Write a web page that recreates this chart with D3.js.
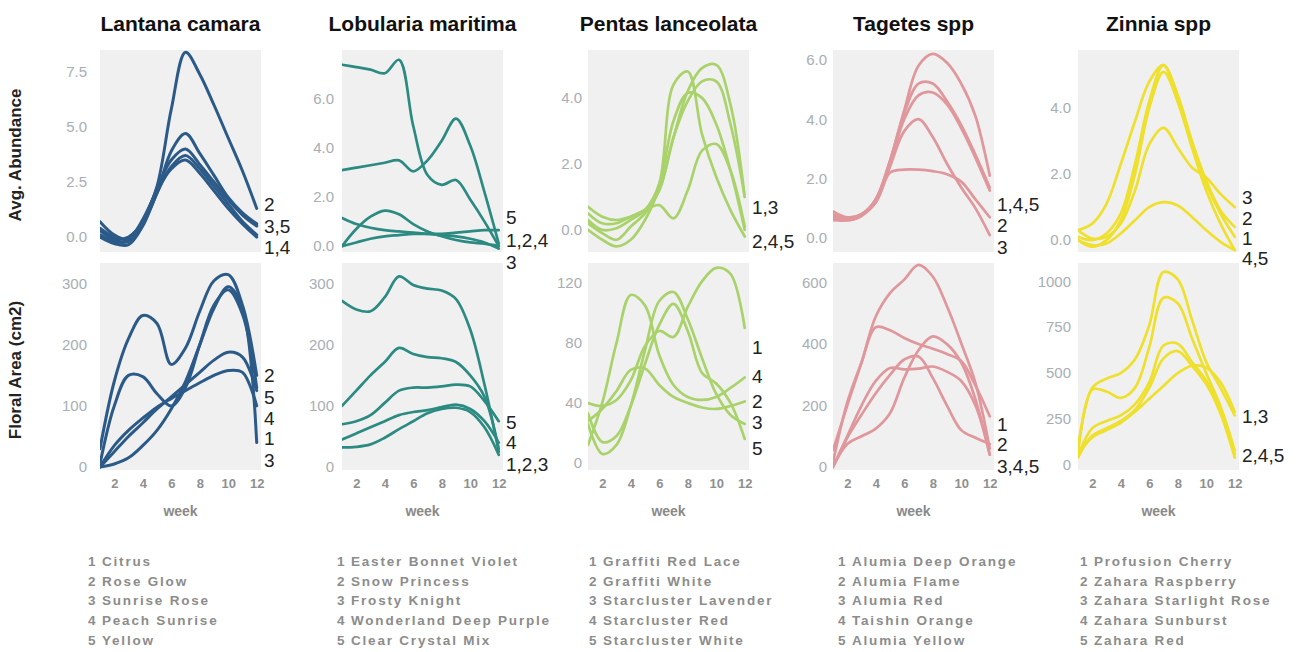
<!DOCTYPE html>
<html><head><meta charset="utf-8">
<script src="https://cdn.jsdelivr.net/npm/d3@7"></script>
<style>
body{margin:0;background:#fff;}
svg{display:block;font-family:"Liberation Sans",Arial,Helvetica,sans-serif;}
</style>
</head><body>
<svg id="chart" width="1298" height="652"></svg>
<script>
// ---------------- DATA ----------------
const speciesNames = ["Lantana camara","Lobularia maritima","Pentas lanceolata","Tagetes spp","Zinnia spp"];
const speciesColors = ["#2c5a88","#2b8a81","#a9d26b","#e0979c","#eee02c"];
const weeks = [1,2,3,4,5,6,7,8,9,10,11,12];
const weekTicks = [2,4,6,8,10,12];

const lantanaVarieties = ["Citrus","Rose Glow","Sunrise Rose","Peach Sunrise","Yellow"];
const lobulariaVarieties = ["Easter Bonnet Violet","Snow Princess","Frosty Knight","Wonderland Deep Purple","Clear Crystal Mix"];
const pentasVarieties = ["Graffiti Red Lace","Graffiti White","Starcluster Lavender","Starcluster Red","Starcluster White"];
const tagetesVarieties = ["Alumia Deep Orange","Alumia Flame","Alumia Red","Taishin Orange","Alumia Yellow"];
const zinniaVarieties = ["Profusion Cherry","Zahara Raspberry","Zahara Starlight Rose","Zahara Sunburst","Zahara Red"];

// Avg. abundance, series 1..5, weeks 1..12
const lantanaAbundance = [
  [0.0,-0.3,-0.35,0.5,2.0,3.2,3.7,3.1,2.3,1.5,0.7,0.1],
  [0.3,-0.1,0.0,0.7,2.3,5.8,8.4,7.4,6.0,4.5,3.0,1.3],
  [0.1,-0.2,-0.2,0.6,2.0,3.9,4.7,3.8,2.8,1.8,1.1,0.6],
  [0.7,0.1,-0.1,0.8,2.1,3.1,3.5,2.9,2.1,1.3,0.6,0.0],
  [0.4,0.0,-0.1,0.7,2.2,3.5,4.0,3.3,2.5,1.7,1.0,0.5]];
const lobulariaAbundance = [
  [7.4,7.3,7.2,7.05,7.6,4.9,2.9,2.5,2.7,1.9,1.0,0.0],
  [3.1,3.2,3.3,3.4,3.5,3.05,3.5,4.3,5.2,4.1,2.2,0.1],
  [1.15,0.9,0.75,0.65,0.6,0.55,0.5,0.45,0.4,0.3,0.15,-0.1],
  [0.0,0.7,1.2,1.45,1.3,0.9,0.6,0.4,0.25,0.15,0.1,0.0],
  [0.0,0.15,0.3,0.4,0.45,0.5,0.5,0.5,0.55,0.6,0.65,0.65]];
const pentasAbundance = [
  [0.2,-0.1,-0.3,0.1,0.5,1.2,2.8,4.2,4.9,5.0,3.8,1.0],
  [0.3,0.0,0.05,0.3,0.6,1.4,4.4,4.8,2.9,1.6,0.6,-0.2],
  [0.5,0.2,0.2,0.4,0.6,1.2,2.8,3.9,4.5,4.5,3.2,1.0],
  [0.0,-0.3,-0.5,-0.3,0.3,1.3,3.3,4.15,4.0,3.2,1.8,0.0],
  [0.7,0.4,0.3,0.4,0.6,0.75,0.35,1.2,2.4,2.6,1.8,0.1]];
const tagetesAbundance = [
  [0.8,0.65,0.8,1.3,2.6,4.3,5.8,6.2,5.9,5.2,4.1,2.1],
  [0.75,0.6,0.75,1.2,2.2,2.3,2.3,2.25,2.15,1.9,1.3,0.7],
  [0.6,0.6,0.8,1.2,2.4,3.6,4.0,3.4,2.5,1.7,1.0,0.1],
  [0.7,0.6,0.75,1.3,2.6,4.2,5.2,5.2,4.6,3.8,2.8,1.7],
  [0.9,0.7,0.8,1.3,2.5,4.0,4.8,4.9,4.5,3.7,2.7,1.6]];
const zinniaAbundance = [
  [0.3,0.5,1.1,2.3,3.6,4.8,5.3,4.2,2.9,1.7,0.8,0.1],
  [0.1,0.0,0.2,0.8,2.3,4.2,5.3,4.4,3.0,1.8,0.9,0.4],
  [0.3,0.05,0.1,0.5,1.5,2.9,3.4,2.8,2.2,1.9,1.4,1.0],
  [0.0,-0.15,-0.1,0.2,0.6,1.0,1.15,1.05,0.7,0.3,-0.05,-0.3],
  [0.0,-0.2,0.0,0.6,2.0,4.0,5.1,4.2,2.8,1.5,0.5,-0.3]];

// Floral area (cm2)
const lantanaArea = [
  [0,35,60,80,98,112,125,138,150,158,155,100],
  [30,140,210,248,235,168,195,255,305,315,265,150],
  [0,5,15,35,60,95,140,200,260,295,260,40],
  [0,25,50,72,95,115,135,155,175,188,180,125],
  [5,100,150,148,120,100,130,200,265,290,250,130]];
const lobulariaArea = [
  [272,258,255,278,312,298,292,289,275,225,135,25],
  [100,125,150,172,195,185,180,178,172,150,115,30],
  [32,33,37,48,62,75,88,95,97,90,65,20],
  [45,55,65,75,85,90,93,98,102,95,75,40],
  [70,75,85,105,125,130,130,132,135,132,108,75]];
const pentasArea = [
  [40,38,42,55,78,88,84,104,121,130,126,90],
  [28,36,48,62,63,52,44,40,37,36,38,41],
  [26,6,12,38,75,108,114,96,70,46,32,26],
  [12,40,80,112,105,72,52,44,42,44,50,57],
  [33,14,18,38,66,92,106,88,60,53,40,16]];
const tagetesArea = [
  [15,210,340,455,445,420,400,385,368,345,265,165],
  [0,95,170,240,300,350,360,290,200,120,95,75],
  [55,200,340,490,566,610,658,620,523,403,273,60],
  [0,75,100,125,175,290,380,425,400,340,220,40],
  [0,100,200,280,322,318,320,327,310,280,200,40]];
const zinniaArea = [
  [90,420,470,500,575,760,1050,1010,790,560,420,270],
  [60,410,400,365,420,640,910,880,690,500,320,80],
  [60,150,190,230,290,360,430,500,540,530,450,290],
  [50,200,240,270,330,450,650,660,560,460,300,60],
  [40,160,200,240,300,420,580,620,540,440,280,40]];

const abundanceTicks = [[0,2.5,5,7.5],[0,2,4,6],[0,2,4],[0,2,4,6],[0,2,4]];
const areaTicks = [[0,100,200,300],[0,100,200,300],[0,40,80,120],[0,200,400,600],[0,250,500,750,1000]];
const abundanceDomains = [[-0.68,8.5],[-0.24,8.0],[-0.67,5.45],[-0.47,6.33],[-0.36,5.76]];
const areaDomains = [[-4.9,334],[-4.9,334],[-4.7,133.3],[-9.8,664],[-27,1099]];

// end labels: [text, value position]
const abundanceEndLabels = [
  [["2",1.5],["3,5",0.5],["1,4",-0.45]],
  [["5",1.18],["1,2,4",0.24],["3",-0.65]],
  [["1,3",0.7],["2,4,5",-0.33]],
  [["1,4,5",1.15],["2",0.45],["3",-0.3]],
  [["3",1.3],["2",0.68],["1",0.06],["4,5",-0.55]]];
const areaEndLabels = [
  [["2",151],["5",115],["4",80],["1",48],["3",11]],
  [["5",74],["4",41],["1,2,3",5]],
  [["1",77],["4",58],["2",41],["3",27],["5",10]],
  [["1",140],["2",75],["3,4,5",3]],
  [["1,3",264],["2,4,5",55]]];

// ---------------- LAYOUT ----------------
const abundanceData = [lantanaAbundance,lobulariaAbundance,pentasAbundance,tagetesAbundance,zinniaAbundance];
const areaData = [lantanaArea,lobulariaArea,pentasArea,tagetesArea,zinniaArea];
const varietyLists = [lantanaVarieties,lobulariaVarieties,pentasVarieties,tagetesVarieties,zinniaVarieties];

const panelLeft = [100,342,588,833,1078];
const panelWidth = 161;
const topPanel = [50,252];
const botPanel = [263,470];
const yTickGap = [13,8,6,6,7];
const legendX = [88,337,589,838,1080];
const legendY0 = 561, legendStep = 19.8;

const svg = d3.select("#chart");
const defs = svg.append("defs");

function drawPanel(c, row, data, domain, ticks, labels){
  const [y0,y1] = row===0 ? topPanel : botPanel;
  const x = d3.scaleLinear().domain([1,12.3]).range([panelLeft[c], panelLeft[c]+panelWidth]);
  const y = d3.scaleLinear().domain(domain).range([y1,y0]);
  const g = svg.append("g");
  g.append("rect").attr("x",panelLeft[c]).attr("y",y0).attr("width",panelWidth).attr("height",y1-y0)
    .attr("fill","#f0f0f0");
  const id = "clip"+c+"_"+row;
  defs.append("clipPath").attr("id",id).append("rect")
    .attr("x",panelLeft[c]).attr("y",y0-2).attr("width",panelWidth).attr("height",y1-y0+4);
  const ya = g.append("g").attr("transform",`translate(${panelLeft[c]-yTickGap[c]},0)`)
    .call(d3.axisLeft(y).tickValues(ticks).tickSize(0).tickPadding(0)
      .tickFormat(row===0 ? d3.format(".1f") : d3.format("d")));
  ya.select(".domain").remove();
  ya.selectAll("text").attr("fill","#a7aeb4").attr("font-size",15).attr("font-family","Liberation Sans, Arial, sans-serif");
  const line = d3.line().x((d,i)=>x(weeks[i])).y(d=>y(d)).curve(d3.curveCatmullRom.alpha(0.5));
  const lg = g.append("g").attr("clip-path",`url(#${id})`);
  data.forEach(s=>{
    lg.append("path").attr("d",line(s)).attr("fill","none")
      .attr("stroke",speciesColors[c]).attr("stroke-width", c===0?3:2.7)
      .attr("stroke-linejoin","round").attr("stroke-linecap","round");
  });
  labels.forEach(([t,v])=>{
    g.append("text").attr("x",panelLeft[c]+panelWidth+3).attr("y",y(v)).attr("dy","0.36em")
      .attr("font-size",19).attr("fill","#222").text(t);
  });
  if(row===1){
    const xa = g.append("g").attr("transform",`translate(0,${y1+9})`)
      .call(d3.axisBottom(x).tickValues(weekTicks).tickSize(0).tickPadding(0));
    xa.select(".domain").remove();
    xa.selectAll("text").attr("fill","#8f8f8f").attr("font-size",13).attr("font-weight","bold")
      .attr("font-family","Liberation Sans, Arial, sans-serif");
    g.append("text").attr("x",panelLeft[c]+panelWidth/2).attr("y",y1+46).attr("text-anchor","middle")
      .attr("font-size",14).attr("font-weight","bold").attr("fill","#8a8a8a").text("week");
  }
}

speciesNames.forEach((name,c)=>{
  svg.append("text").attr("x",panelLeft[c]+panelWidth/2).attr("y",31).attr("text-anchor","middle")
    .attr("font-size",21).attr("font-weight","bold").attr("fill","#111").text(name);
  drawPanel(c,0,abundanceData[c],abundanceDomains[c],abundanceTicks[c],abundanceEndLabels[c]);
  drawPanel(c,1,areaData[c],areaDomains[c],areaTicks[c],areaEndLabels[c]);
  const leg = svg.append("g");
  varietyLists[c].forEach((v,i)=>{
    const yy = legendY0 + i*legendStep;
    leg.append("text").attr("x",legendX[c]).attr("y",yy).attr("dy","0.35em")
      .attr("font-size",13.5).attr("font-weight","bold").attr("fill","#8c8c8c").text(i+1);
    leg.append("text").attr("x",legendX[c]+14).attr("y",yy).attr("dy","0.35em")
      .attr("font-size",13.5).attr("font-weight","bold").attr("fill","#8c8c8c")
      .attr("letter-spacing","1.8px").text(v);
  });
});

svg.append("text").attr("transform","translate(21,155) rotate(-90)").attr("text-anchor","middle")
  .attr("font-size",17).attr("font-weight","bold").attr("fill","#222").text("Avg. Abundance");
svg.append("text").attr("transform","translate(21,370) rotate(-90)").attr("text-anchor","middle")
  .attr("font-size",17).attr("font-weight","bold").attr("fill","#222").text("Floral Area (cm2)");
</script>
</body></html>
